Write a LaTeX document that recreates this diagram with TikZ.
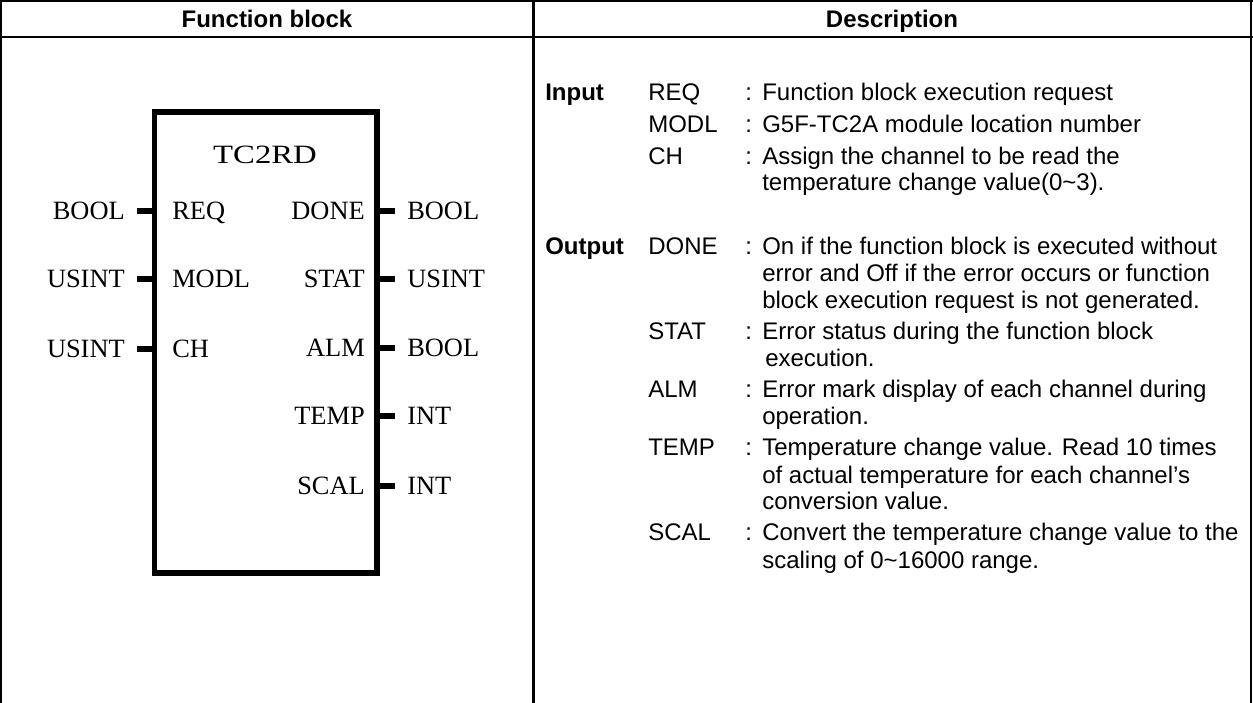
\documentclass[tikz,border=0pt]{standalone}
\usepackage{fontspec}
\setmainfont{Liberation Serif}
\newfontfamily\descfont{Liberation Sans}
\newfontfamily\titlefont[FakeStretch=1.24]{Liberation Serif}
\begin{document}
\begin{tikzpicture}[x=0.75pt,y=-0.75pt,
  grid/.style={line width=1.6pt},
  hd/.style={font=\descfont\bfseries\fontsize{18}{21}\selectfont, anchor=base, inner sep=0pt},
  ds/.style={font=\descfont\fontsize{18}{21}\selectfont, anchor=base west, inner sep=0pt},
  dsb/.style={font=\descfont\bfseries\fontsize{18}{21}\selectfont, anchor=base west, inner sep=0pt},
  fb/.style={font=\fontsize{19.8}{22}\selectfont, inner sep=0pt},
  pin/.style={line width=4.4pt},
  blockbox/.style={draw, line width=4pt, minimum width=166.9pt, minimum height=345.75pt, inner sep=0pt}
]
\useasboundingbox (0,0) rectangle (1253,703);
% table
\draw[grid] (1,0) -- (1,703);
\draw[grid] (1251,0) -- (1251,703);
\draw[grid] (0,1) -- (1253,1);
\draw[grid] (0,37) -- (1253,37);
\draw[grid] (533.5,0) -- (533.5,703);
\node[hd] (h1) at (267,27.5) {Function block};
\node[hd] (h2) at (892,27.5) {Description};

% function block
\node[blockbox] (blk) at (265.75,342.5) {};
\node[fb, font=\titlefont\fontsize{19.8}{22}\selectfont, anchor=base] (title) at (265,163.7) {TC2RD};
% left side
\foreach \n/\y/\outer/\inner in {l1/211/BOOL/REQ, l2/279/USINT/MODL, l3/349/USINT/CH}{
  \node[fb, anchor=base east] (\n o) at (125,\y+8.7) {\outer};
  \node[fb, anchor=base west] (\n i) at (172,\y+8.7) {\inner};
  \coordinate (\n p) at (137,\y);
  \draw[pin] (\n p) -- (\n p -| blk.west);
}
% right side
\foreach \n/\y/\inner/\outer in {r1/211/DONE/BOOL, r2/279/STAT/USINT, r3/348/ALM/BOOL, r4/416/TEMP/INT, r5/486/SCAL/INT}{
  \node[fb, anchor=base east] (\n i) at (365,\y+8.7) {\inner};
  \node[fb, anchor=base west] (\n o) at (407,\y+8.7) {\outer};
  \coordinate (\n p) at (395,\y);
  \draw[pin] (\n p) -- (\n p -| blk.east);
}

% description
\node[dsb] (in) at (545,100.5) {Input};
\node[ds] (k1) at (648,100.5) {REQ};
\node[ds] (c1) at (745,100.5) {:};
\node[ds] (t1) at (762,100.5) {Function block execution request};
\node[ds] (k2) at (648,132.5) {MODL};
\node[ds] (c2) at (745,132.5) {:};
\node[ds] (t2) at (762,132.5) {G5F-TC2A module location number};
\node[ds] (k3) at (648,164.5) {CH};
\node[ds] (c3) at (745,164.5) {:};
\node[ds] (t3) at (762,164.5) {Assign the channel to be read the};
\node[ds] (t3b) at (762,190.5) {temperature change value(0\textasciitilde3).};

\node[dsb] (out) at (545,254.5) {Output};
\node[ds] (k4) at (648,254.5) {DONE};
\node[ds] (c4) at (745,254.5) {:};
\node[ds] (t4) at (762,254.5) {On if the function block is executed without};
\node[ds] (t4b) at (762,281.5) {error and Off if the error occurs or function};
\node[ds] (t4c) at (762,308.5) {block execution request is not generated.};
\node[ds] (k5) at (648,339.5) {STAT};
\node[ds] (c5) at (745,339.5) {:};
\node[ds] (t5) at (762,339.5) {Error status during the function block};
\node[ds] (t5b) at (765,366.5) {execution.};
\node[ds] (k6) at (648,397.5) {ALM};
\node[ds] (c6) at (745,397.5) {:};
\node[ds] (t6) at (762,397.5) {Error mark display of each channel during};
\node[ds] (t6b) at (762,424.5) {operation.};
\node[ds] (k7) at (648,455.5) {TEMP};
\node[ds] (c7) at (745,455.5) {:};
\node[ds] (t7) at (762,455.5) {Temperature change value. Read 10 times};
\node[ds] (t7b) at (762,483.5) {of actual temperature for each channel’s};
\node[ds] (t7c) at (762,509.5) {conversion value.};
\node[ds] (k8) at (648,540.5) {SCAL};
\node[ds] (c8) at (745,540.5) {:};
\node[ds] (t8) at (762,540.5) {Convert the temperature change value to the};
\node[ds] (t8b) at (762,568.5) {scaling of 0\textasciitilde16000 range.};
\end{tikzpicture}
\end{document}
